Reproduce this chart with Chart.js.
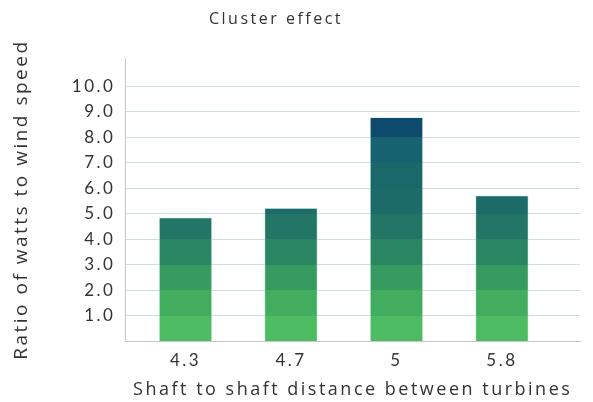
<!DOCTYPE html>
<html>
<head>
<meta charset="utf-8">
<script src="https://cdn.jsdelivr.net/npm/chart.js@4.4.1/dist/chart.umd.min.js"></script>
<style>
  html, body { margin: 0; padding: 0; background: #fff; }
  #wrap { width: 593px; height: 402px; }
</style>
</head>
<body>
<div id="wrap"><canvas id="barChart"></canvas></div>
<script>
// distances between shafts (categories) and measured ratio
var distances = ['4.3', '4.7', '5', '5.8'];
var ratios = [4.84, 5.22, 8.78, 5.71];
var yTicks = [1, 2, 3, 4, 5, 6, 7, 8, 9, 10];
// one colour per 1.0 band, bottom up
var bandColors = ['#4dbb62', '#43ad5f', '#379a60', '#2a8563', '#237566',
                  '#1d6b68', '#1b686b', '#17626f', '#0d4a6e', '#0b446e'];

var textColor = '#333333';

function bandFill(context) {
    var chart = context.chart;
    var area = chart.chartArea;
    if (!area) return bandColors[0];
    var y = chart.scales.y;
    var y0 = y.getPixelForValue(0);
    var y1 = y.getPixelForValue(bandColors.length);
    var g = chart.ctx.createLinearGradient(0, y0, 0, y1);
    var n = bandColors.length;
    for (var i = 0; i < n; i++) {
        g.addColorStop(i / n, bandColors[i]);
        g.addColorStop((i + 1) / n - 0.0001, bandColors[i]);
    }
    return g;
}

var spacing = {
    id: 'spacing',
    beforeLayout: function(chart) { chart.ctx.letterSpacing = '2.5px'; },
    beforeDraw: function(chart) { chart.ctx.letterSpacing = '2.5px'; },
    afterLayout: function(chart) {
        // title sits a little left of the centre in the original
        if (chart.titleBlock) chart.titleBlock.right -= 38;
    }
};

var ctx = document.getElementById('barChart');
var myChart = new Chart(ctx, {
    type: 'bar',
    data: {
        datasets: [{
            data: ratios.map(function(v, i) { return { x: i, y: v }; }),
            backgroundColor: bandFill,
            borderColor: 'rgba(200,235,225,0.6)',
            borderWidth: 1,
            barThickness: 53
        }]
    },
    options: {
        responsive: true,
        maintainAspectRatio: false,
        animation: false,
        layout: { padding: { top: 4, right: 13, left: 10, bottom: 1 } },
        plugins: {
            legend: { display: false },
            tooltip: { enabled: false },
            title: {
                display: true,
                text: 'Cluster effect',
                color: textColor,
                font: { family: 'Open Sans', size: 16, weight: 'normal' },
                padding: { top: 6, bottom: 29 }
            }
        },
        scales: {
            x: {
                type: 'linear',
                offset: false,
                min: -0.57,
                max: 3.74,
                afterBuildTicks: function(scale) {
                    scale.ticks = distances.map(function(d, i) { return { value: i }; });
                },
                ticks: {
                    color: textColor,
                    font: { family: 'Lato', size: 17 },
                    padding: 1,
                    callback: function(v) { return distances[v]; }
                },
                grid: { display: false },
                border: { display: true, color: '#c8c8c8' },
                title: {
                    display: true,
                    text: 'Shaft to shaft distance between turbines',
                    color: textColor,
                    font: { family: 'Open Sans', size: 18 },
                    padding: { top: 8, bottom: 0 }
                }
            },
            y: {
                min: 0,
                max: 11.1,
                z: 1,
                afterBuildTicks: function(scale) {
                    scale.ticks = yTicks.map(function(v) { return { value: v }; });
                },
                ticks: {
                    color: textColor,
                    font: { family: 'Lato', size: 17 },
                    padding: 10,
                    callback: function(v) { return v.toFixed(1); }
                },
                grid: {
                    color: 'rgba(190,212,212,0.75)',
                    drawTicks: false
                },
                border: { display: true, color: '#c8c8c8' },
                title: {
                    display: true,
                    text: 'Ratio of watts to wind speed',
                    color: textColor,
                    font: { family: 'Open Sans', size: 19 },
                    padding: { top: 0, bottom: 29 }
                }
            }
        }
    },
    plugins: [spacing]
});
</script>
</body>
</html>
